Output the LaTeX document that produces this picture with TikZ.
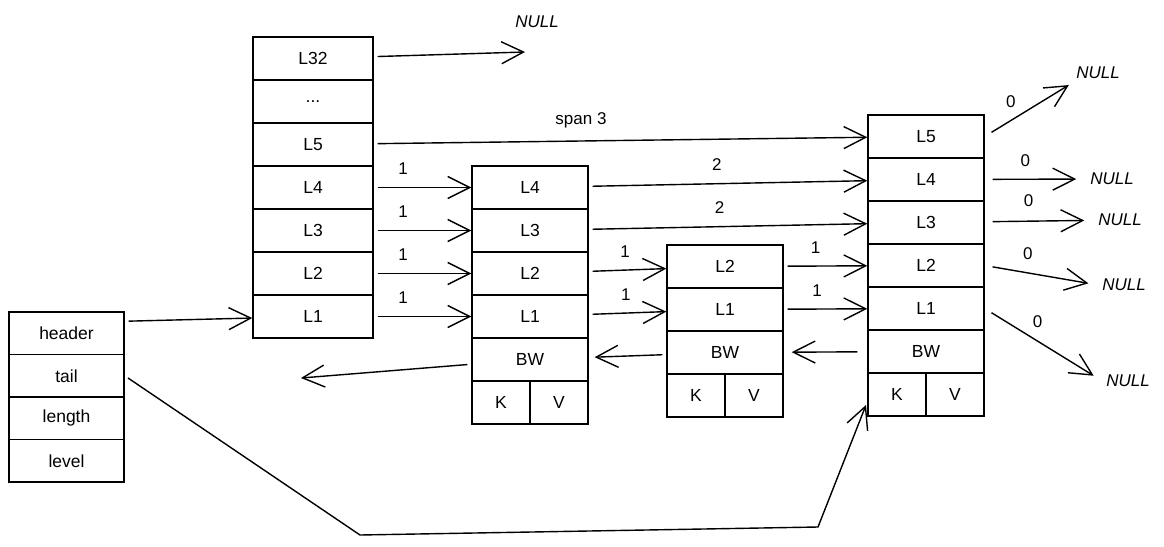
\documentclass[tikz,border=0pt]{standalone}
\usepackage{fontspec}
\setmainfont{Liberation Sans}
\usetikzlibrary{arrows.meta}

\begin{document}
\begin{tikzpicture}[x = 1pt, y = -1pt, line width = 1.4pt,
                        cell/.style = {draw, minimum width = 116pt, minimum height = 43pt, inner sep = 0pt, font = \fontsize{17.5}{20}\selectfont},
                        half/.style = {cell, minimum width = 58pt},
                        link/.style = {-{Straight Barb[length = 22pt, width = 22pt]}, shorten <= 4pt},
                        nulllink/.style = {link, shorten <= 8pt, shorten > = 10pt},
                        lbl/.style = {above = 9pt, font = \fontsize{17}{20}\selectfont},
                        null/.style = {font = \itshape\fontsize{17}{20}\selectfont}]
      \useasboundingbox (0, 0) rectangle (1164, 546);
      % skiplist struct
      \node [cell, minimum width = 115pt, minimum height = 42.5pt] (header) at (66.5, 333.25){header};
      \node [cell, minimum width = 115pt, minimum height = 42.5pt] (tail) at (66.5, 375.75){tail};
      \node [cell, minimum width = 115pt, minimum height = 42.5pt] (length) at (66.5, 418.25){length};
      \node [cell, minimum width = 115pt, minimum height = 42.5pt] (level) at (66.5, 460.75){level};
      % header node
      \node [cell, minimum width = 120pt] (h32) at (313, 58.5){L32};
      \node [cell, minimum width = 120pt] (hdots) at (313, 101.5){...};
      \node [cell, minimum width = 120pt] (h5) at (313, 144.5){L5};
      \node [cell, minimum width = 120pt] (h4) at (313, 187.5){L4};
      \node [cell, minimum width = 120pt] (h3) at (313, 230.5){L3};
      \node [cell, minimum width = 120pt] (h2) at (313, 273.5){L2};
      \node [cell, minimum width = 120pt] (h1) at (313, 316.5){L1};
      % first node
      \node [cell] (b4) at (530, 187.5){L4};
      \node [cell] (b3) at (530, 230.5){L3};
      \node [cell] (b2) at (530, 273.5){L2};
      \node [cell] (b1) at (530, 316.5){L1};
      \node [cell] (bbw) at (530, 359.5){BW};
      \node [half] (bk) at (501, 402.5){K};
      \node [half] (bv) at (559, 402.5){V};
      % second node
      \node [cell] (c2) at (725, 266.5){L2};
      \node [cell] (c1) at (725, 309.5){L1};
      \node [cell] (cbw) at (725, 352.5){BW};
      \node [half] (ck) at (696, 395.5){K};
      \node [half] (cv) at (754, 395.5){V};
      % tail node
      \node [cell] (d5) at (926, 136.5){L5};
      \node [cell] (d4) at (926, 179.5){L4};
      \node [cell] (d3) at (926, 222.5){L3};
      \node [cell] (d2) at (926, 265.5){L2};
      \node [cell] (d1) at (926, 308.5){L1};
      \node [cell] (dbw) at (926, 351.5){BW};
      \node [half] (dk) at (897, 394.5){K};
      \node [half] (dv) at (955, 394.5){V};
      % NULL ends
      \node [null] (n32) at (537, 22){NULL};
      \node [null] (nd5) at (1098, 73){NULL};
      \node [null] (nd4) at (1112, 179){NULL};
      \node [null] (nd3) at (1120, 220){NULL};
      \node [null] (nd2) at (1124, 285){NULL};
      \node [null] (nd1) at (1128, 381){NULL};
      \coordinate (e32) at (525, 52);
      \coordinate (back) at (301, 378);
      \coordinate (bend1) at (360, 535);
      \coordinate (bend2) at (818, 527);
      \coordinate (tailend) at (866, 405);
      % forward links
      \draw [link] (h32) -- (e32);
      \draw [link] (h5) -- node [lbl, pos = 0.42]{span 3} (d5);
      \draw [link] (h4) -- node [lbl, pos = 0.3]{1} (b4);
      \draw [link] (h3) -- node [lbl, pos = 0.3]{1} (b3);
      \draw [link] (h2) -- node [lbl, pos = 0.3]{1} (b2);
      \draw [link] (h1) -- node [lbl, pos = 0.3]{1} (b1);
      \draw [link] ([yshift = 12pt]header.east) -- (h1);
      \draw [link] (b4) -- node [lbl, pos = 0.46]{2} (d4);
      \draw [link] (b3) -- node [lbl, pos = 0.47]{2} (d3);
      \draw [link] (b2) -- node [lbl, pos = 0.47]{1} (c2);
      \draw [link] (b1) -- node [lbl, pos = 0.48]{1} (c1);
      \draw [link] (c2) -- node [lbl, pos = 0.38]{1} (d2);
      \draw [link] (c1) -- node [lbl, pos = 0.4]{1} (d1);
      \draw [nulllink, shorten > = 4pt] (d5.east) -- node [lbl, pos = 0.3]{0} (nd5.south west);
      \draw [nulllink] (d4) -- node [lbl, pos = 0.4]{0} (nd4);
      \draw [nulllink] (d3) -- node [lbl, pos = 0.4, above = 1pt]{0} (nd3);
      \draw [nulllink] (d2.east) -- node [lbl, pos = 0.38]{0} (nd2.west);
      \draw [nulllink] (d1.east) -- node [lbl, pos = 0.45]{0} (nd1.west);
      % backward links
      \draw [link] (bbw) -- (back);
      \draw [link, shorten > = 6pt] (cbw) -- (bbw);
      \draw [link, shorten <= 10pt, shorten > = 8pt] (dbw) -- (cbw);
      \draw [link] (tail.east) -- (bend1) -- (bend2) -- (tailend);
    \end{tikzpicture}
\end{document}
